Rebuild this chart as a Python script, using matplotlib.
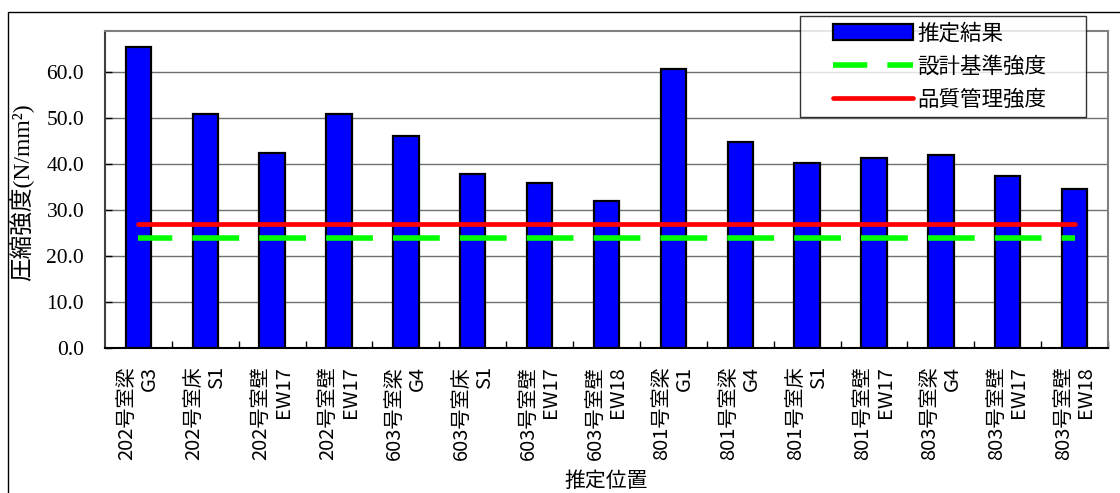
import matplotlib
matplotlib.use("Agg")
import matplotlib.pyplot as plt
from matplotlib.lines import Line2D
from matplotlib.patches import Patch, Rectangle
from matplotlib.legend_handler import HandlerLine2D, HandlerPatch

plt.rcParams["font.family"] = ["Noto Sans CJK JP", "DejaVu Sans"]
plt.rcParams["lines.scale_dashes"] = False

# 推定位置ごとの圧縮強度
locations = [
    "202号室梁\nG3", "202号室床\nS1", "202号室壁\nEW17", "202号室壁\nEW17",
    "603号室梁\nG4", "603号室床\nS1", "603号室壁\nEW17", "603号室壁\nEW18",
    "801号室梁\nG1", "801号室梁\nG4", "801号室床\nS1", "801号室壁\nEW17",
    "803号室梁\nG4", "803号室壁\nEW17", "803号室壁\nEW18",
]
estimated = [65.6, 50.9, 42.4, 50.9, 46.2, 37.8, 35.9, 32.1,
             60.7, 44.9, 40.4, 41.4, 42.0, 37.4, 34.6]
design_strength = [24.0] * len(locations)
quality_strength = [27.0] * len(locations)
yticks = [0, 10, 20, 30, 40, 50, 60]

W, H = 1120, 493
fig = plt.figure(figsize=(W / 100, H / 100), dpi=100)
ax_l, ax_r, ax_t, ax_b = 105, 1108, 31, 348.3
ax = fig.add_axes([ax_l / W, 1 - ax_b / H, (ax_r - ax_l) / W, (ax_b - ax_t) / H])

x = list(range(len(locations)))
ax.bar(x, estimated, width=0.38, color="#0000FF", edgecolor="black",
       linewidth=1.6, zorder=3)

# 設計基準強度の破線はカテゴリ間隔に合わせる
step_pt = (ax_r - ax_l) / len(locations) * 0.72
dash_style = (0.187 * step_pt, (0.70 * step_pt, 0.30 * step_pt))
ax.plot(x, design_strength, color="#00FF00", linewidth=4.0,
        linestyle=dash_style, solid_capstyle="butt", dash_capstyle="butt", zorder=4)
ax.plot(x, quality_strength, color="#FF0000", linewidth=3.4,
        solid_capstyle="round", zorder=5)

ax.set_xlim(-0.5, len(locations) - 0.5)
ax.set_ylim(0, 69)
ax.set_yticks(yticks)
ax.set_yticklabels([f"{v:.1f}" for v in yticks])
ax.tick_params(axis="y", direction="in", length=5, width=1.0, pad=15,
               labelsize=15.5, labelfontfamily="Liberation Serif")
ax.yaxis.grid(True, color="#707070", linewidth=1.0, zorder=0)
ax.set_axisbelow(True)

ax.set_xticks(x)
ax.set_xticklabels(locations, rotation=90, fontsize=14.5, va="top",
                   ha="center", multialignment="right", linespacing=1.1)
ax.tick_params(axis="x", which="major", length=0, pad=13)
ax.set_xticks([i + 0.5 for i in x], minor=True)
ax.tick_params(axis="x", which="minor", direction="in", length=5, width=1.0)

for side in ("top", "right"):
    ax.spines[side].set_color("#808080")
    ax.spines[side].set_linewidth(1.5)
ax.spines["left"].set_color("#404040")
ax.spines["left"].set_linewidth(1.5)
ax.spines["bottom"].set_color("black")
ax.spines["bottom"].set_linewidth(1.5)

fig.text(22 / W, 1 - 192 / H, "圧縮強度(N/mm²)", rotation=90, ha="center", va="center",
         fontsize=17, family=["Liberation Serif", "Noto Sans CJK JP"])
fig.text(606 / W, 1 - 481 / H, "推定位置", ha="center", va="center", fontsize=15)

# 凡例
handles = [
    Patch(facecolor="#0000FF", edgecolor="black", linewidth=1.6),
    Line2D([], [], color="#00FF00", linewidth=4.0, linestyle=dash_style),
    Line2D([], [], color="#FF0000", linewidth=3.4, solid_capstyle="round"),
]
labels = ["推定結果", "設計基準強度", "品質管理強度"]
fs = 15.5
xpad = 1.22
leg = fig.legend(handles, labels, loc="upper left",
                 bbox_to_anchor=(800 / W, 1 - 16 / H, 286 / W, 0.0),
                 mode="expand", fontsize=fs, frameon=True, fancybox=False,
                 borderpad=0.3, labelspacing=0.51, handlelength=4.94,
                 handleheight=0.75, handletextpad=0.2, borderaxespad=0,
                 handler_map={Line2D: HandlerLine2D(xpad=xpad),
                              Patch: HandlerPatch(xpad=xpad)})
leg.get_frame().set_edgecolor("black")
leg.get_frame().set_linewidth(1.0)

# 外枠
fig.add_artist(Rectangle((8 / W, -0.1), 1.2, 1.1 - 12 / H, transform=fig.transFigure,
                         fill=False, edgecolor="black", linewidth=1.0))

fig.savefig("out.png", dpi=100)
